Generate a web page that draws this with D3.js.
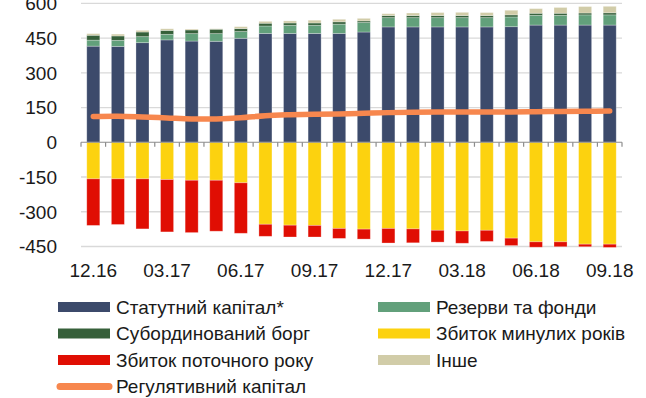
<!DOCTYPE html>
<html>
<head>
<meta charset="utf-8">
<script src="https://cdn.jsdelivr.net/npm/d3@7/dist/d3.min.js"></script>
<style>
  html, body { margin: 0; padding: 0; background: #fff; }
  svg { display: block; font-family: "Liberation Sans", Arial, sans-serif; }
</style>
</head>
<body>
<svg id="chart" width="646" height="398"></svg>
<script>
// Monthly capital structure, UAH bn
const months = ["12.16","01.17","02.17","03.17","04.17","05.17","06.17","07.17","08.17","09.17","10.17",
                "11.17","12.17","01.18","02.18","03.18","04.18","05.18","06.18","07.18","08.18","09.18"];
const tickLabels = ["12.16","03.17","06.17","09.17","12.17","03.18","06.18","09.18"];
const yTicks = [-450, -300, -150, 0, 150, 300, 450, 600];

const statutory   = [415,414,430,442,437,436,449,470,470,470,470,476,498,498,498,498,498,499,506,506,506,506];
const reserves    = [26,26,26,24,32,33,29,32,35,35,40,41,40,40,40,40,40,42,42,42,44,44];
const subDebt     = [21,19,20,17,16,19,13,12,10,10,10,7,9,9,9,9,9,9,9,9,8,9];
const other       = [7,8,7,7,4,2,8,8,9,12,11,11,8,11,13,14,13,20,20,25,28,28];
const lossPrior   = [-158,-158,-158,-161,-164,-164,-175,-354,-358,-359,-372,-375,-372,-374,-380,-383,-380,-414,-430,-430,-440,-440];
const lossCurrent = [-201,-197,-216,-226,-226,-220,-218,-52,-51,-50,-43,-43,-63,-60,-51,-53,-48,-32,-23,-21,-11,-14];
const regCapital  = [111,112,109,105,101,101,106,115,119,121,122,125,128,130,131,131,131,131,132,133,134,135];

const series = [
  { key: "statutory",   name: "Статутний капітал*",     color: "#3C4A6B", values: statutory },
  { key: "reserves",    name: "Резерви та фонди",       color: "#62A07B", values: reserves },
  { key: "subDebt",     name: "Субординований борг",    color: "#36603A", values: subDebt },
  { key: "lossPrior",   name: "Збиток минулих років",   color: "#FCD20F", values: lossPrior },
  { key: "lossCurrent", name: "Збиток поточного року",  color: "#E00E03", values: lossCurrent },
  { key: "other",       name: "Інше",                   color: "#D1CCA8", values: other }
];
const lineName = "Регулятивний капітал";
const lineColor = "#F7874E";

const rows = months.map((m, i) => {
  const r = { month: m };
  series.forEach(s => r[s.key] = s.values[i]);
  return r;
});

const stackOrder = ["statutory", "reserves", "subDebt", "other", "lossPrior", "lossCurrent"];
const stacked = d3.stack().keys(stackOrder).offset(d3.stackOffsetDiverging)(rows);
const colorOf = Object.fromEntries(series.map(s => [s.key, s.color]));

const svg = d3.select("#chart");
const left = 81, right = 622;

const x = d3.scaleBand().domain(months).range([left, right]).paddingInner(0.47).paddingOuter(0.235);
const y = d3.scaleLinear().domain([-450, 600]).range([246.5, 3.3]);

// horizontal gridlines
svg.append("g")
  .selectAll("line")
  .data(yTicks.filter(v => v !== 0))
  .join("line")
  .attr("x1", left).attr("x2", right)
  .attr("y1", d => y(d)).attr("y2", d => y(d))
  .attr("stroke", "#D9D9D9").attr("stroke-width", 1.3);

// y tick labels
svg.append("g")
  .selectAll("text")
  .data(yTicks)
  .join("text")
  .attr("x", 57).attr("y", d => y(d))
  .attr("dy", "0.36em")
  .attr("text-anchor", "end")
  .attr("font-size", 19)
  .attr("fill", "#1a1a1a")
  .text(d => d);

// stacked bars
svg.append("g")
  .selectAll("g")
  .data(stacked)
  .join("g")
  .attr("fill", d => colorOf[d.key])
  .selectAll("rect")
  .data(d => d)
  .join("rect")
  .attr("x", d => x(d.data.month))
  .attr("width", x.bandwidth())
  .attr("y", d => y(Math.max(d[0], d[1])))
  .attr("height", d => Math.abs(y(d[0]) - y(d[1])))
  .attr("stroke", "rgba(255,255,255,0.35)")
  .attr("stroke-width", 0.8);

// zero axis with ticks between bars
const axisY = y(0);
svg.append("line")
  .attr("x1", left).attr("x2", right)
  .attr("y1", axisY).attr("y2", axisY)
  .attr("stroke", "#8C8C8C").attr("stroke-width", 1.2);
const boundaries = months.map(m => x(m) - x.step() * x.paddingInner() / 2).concat([right]);
svg.append("g")
  .selectAll("line")
  .data(boundaries)
  .join("line")
  .attr("x1", d => d).attr("x2", d => d)
  .attr("y1", axisY).attr("y2", axisY + 4.5)
  .attr("stroke", "#8C8C8C").attr("stroke-width", 1.2);

// month labels below plot
svg.append("g")
  .selectAll("text")
  .data(tickLabels)
  .join("text")
  .attr("x", d => x(d) + x.bandwidth() / 2)
  .attr("y", 276.5)
  .attr("text-anchor", "middle")
  .attr("font-size", 19)
  .attr("fill", "#1a1a1a")
  .text(d => d);

// regulatory capital line
const line = d3.line()
  .x((d, i) => x(months[i]) + x.bandwidth() / 2)
  .y(d => y(d))
  .curve(d3.curveCatmullRom.alpha(0.5));
svg.append("path")
  .datum(regCapital)
  .attr("d", line)
  .attr("fill", "none")
  .attr("stroke", lineColor)
  .attr("stroke-width", 5.5)
  .attr("stroke-linecap", "round")
  .attr("stroke-linejoin", "round");

// legend
const legendItems = [
  { key: "statutory", col: 0, row: 0 },
  { key: "reserves", col: 1, row: 0 },
  { key: "subDebt", col: 0, row: 1 },
  { key: "lossPrior", col: 1, row: 1 },
  { key: "lossCurrent", col: 0, row: 2 },
  { key: "other", col: 1, row: 2 }
];
const nameOf = Object.fromEntries(series.map(s => [s.key, s.name]));
const colX = [58, 378], rowY = [307, 333.5, 360, 386.5];
const lg = svg.append("g");
legendItems.forEach(it => {
  const gx = colX[it.col], gy = rowY[it.row];
  lg.append("rect").attr("x", gx).attr("y", gy - 5).attr("width", 52).attr("height", 10)
    .attr("fill", colorOf[it.key]);
  lg.append("text").attr("x", gx + 58).attr("y", gy).attr("dy", "0.36em")
    .attr("font-size", 19).attr("fill", "#1a1a1a").text(nameOf[it.key]);
});
lg.append("line").attr("x1", 60).attr("x2", 109).attr("y1", rowY[3]).attr("y2", rowY[3])
  .attr("stroke", lineColor).attr("stroke-width", 7).attr("stroke-linecap", "round");
lg.append("text").attr("x", 116).attr("y", rowY[3]).attr("dy", "0.36em")
  .attr("font-size", 19).attr("fill", "#1a1a1a").text(lineName);
</script>
</body>
</html>
